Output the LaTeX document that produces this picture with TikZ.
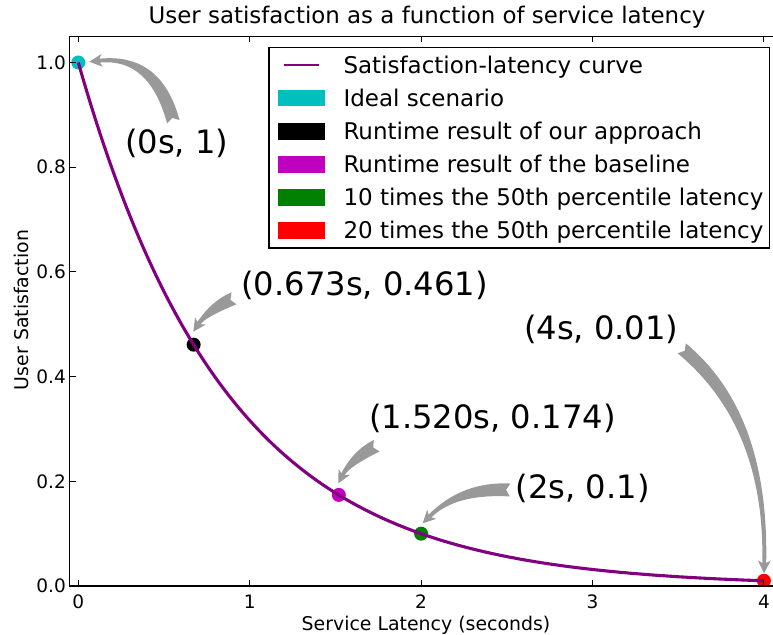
\documentclass[tikz,border=0pt]{standalone}
\usepackage{fontspec}
\setmainfont{DejaVu Sans}
\usetikzlibrary{calc}

\definecolor{curvepurple}{RGB}{128,0,128}
\definecolor{idealcyan}{RGB}{0,191,191}
\definecolor{basemagenta}{RGB}{191,0,191}
\definecolor{tengreen}{RGB}{0,128,0}
\definecolor{twentyred}{RGB}{255,0,0}
\definecolor{arrowgray}{RGB}{153,153,153}

% Tapered "fancy" arrow along a quadratic path: #1 tail, #2 control point, #3 tip
\newcommand\fancyarrow[3]{%
  \coordinate (fatl) at ($(#1)!6.45pt!90:(#2)$);
  \coordinate (fatr) at ($(#1)!6.45pt!-90:(#2)$);
  \coordinate (fanotch) at ($(#1)!3.9pt!(#2)$);
  \coordinate (faneck) at ($(#3)!10.3pt!(#2)$);
  \coordinate (fabase) at ($(#3)!12.9pt!(#2)$);
  \coordinate (fanl) at ($(faneck)!1.95pt!90:(#3)$);
  \coordinate (fanr) at ($(faneck)!1.95pt!-90:(#3)$);
  \coordinate (fahl) at ($(fabase)!6.45pt!90:(#3)$);
  \coordinate (fahr) at ($(fabase)!6.45pt!-90:(#3)$);
  \coordinate (fatlx) at ($(fatl)+(#2)-(#1)$);
  \coordinate (fatrx) at ($(fatr)+(#2)-(#1)$);
  \coordinate (fanlx) at ($(fanl)+(#3)-(#2)$);
  \coordinate (fanrx) at ($(fanr)+(#3)-(#2)$);
  \coordinate (facl) at (intersection of fatl--fatlx and fanl--fanlx);
  \coordinate (facr) at (intersection of fatr--fatrx and fanr--fanrx);
  \fill[arrowgray] (fanotch) -- (fatr)
    .. controls ($(fatr)!2/3!(facr)$) and ($(fanr)!2/3!(facr)$) .. (fanr)
    -- (fahr) -- (#3) -- (fahl) -- (fanl)
    .. controls ($(fanl)!2/3!(facl)$) and ($(fatl)!2/3!(facl)$) .. (fatl)
    -- cycle;
}

\tikzset{
  spine/.style={line width=1.2pt, black},
  tickmark/.style={line width=1pt, black},
  ticklabel/.style={inner sep=0pt, font=\fontsize{18.5pt}{22pt}\selectfont},
  axislabel/.style={inner sep=0pt, font=\fontsize{18.9pt}{22pt}\selectfont},
  titletext/.style={inner sep=0pt, font=\fontsize{22.9pt}{27pt}\selectfont},
  legendtext/.style={inner sep=0pt, anchor=base west, font=\fontsize{23pt}{27pt}\selectfont},
  annot/.style={inner sep=0pt, anchor=base west, font=\fontsize{32.2pt}{37pt}\selectfont},
  dot/.style={circle, inner sep=0pt, minimum size=14pt, draw=none},
  curve/.style={curvepurple, line width=3.1pt},
  patch/.style={minimum width=46.7pt, minimum height=16.7pt, inner sep=0pt, draw=none},
}

\begin{document}
\begin{tikzpicture}[x=1pt, y=-1pt]
  \useasboundingbox (0,0) rectangle (773,634);
  \fill[white] (0,0) rectangle (773,634);

  % title and axis labels
  \node[titletext, anchor=base] (title) at (427,23.3) {User satisfaction as a function of service latency};
  \node[axislabel, anchor=base] (xlabel) at (426,630.3) {Service Latency (seconds)};
  \node[axislabel, anchor=base, rotate=90] (ylabel) at (28.3,310) {User Satisfaction};

  % plot area in data coordinates
  \begin{scope}[shift={(78.3pt,-586pt)}, x=171.4pt, y=523.5pt]
    \begin{scope}
      \clip (-0.05,0) rectangle (4.12,1.05);
      \node[dot, fill=idealcyan]   (pideal)  at (0,1) {};
      \node[dot, fill=black]       (pours)   at (0.673,0.461) {};
      \node[dot, fill=basemagenta] (pbase)   at (1.52,0.174) {};
      \node[dot, fill=tengreen]    (pten)    at (2,0.1) {};
      \node[dot, fill=twentyred]   (ptwenty) at (4,0.01) {};
      \draw[curve] plot[domain=0:4, samples=160, smooth] (\x, {exp(-1.151293*\x)});
    \end{scope}
    % spines (the right one lies beyond the visible area)
    \draw[spine] (4.12,1.05) -- (-0.05,1.05) -- (-0.05,0) -- (4.12,0);
    % ticks and tick labels
    \foreach \t in {0,1,2,3,4} {
      \draw[tickmark] (\t,0) -- ++(0pt,6pt);
      \draw[tickmark] (\t,1.05) -- ++(0pt,-6pt);
      \node[ticklabel, anchor=north] (xt\t) at ($(\t,0)+(0pt,-9pt)$) {\t};
    }
    \foreach \s/\lab in {0/0.0, 0.2/0.2, 0.4/0.4, 0.6/0.6, 0.8/0.8, 1/1.0} {
      \draw[tickmark] (-0.05,\s) -- ++(6pt,0pt);
      \node[ticklabel, anchor=east] at ($(0,\s)+(-12.3pt,0pt)$) {\lab};
    }
  \end{scope}

  % legend
  \draw[line width=1.2pt, fill=white] (269,47.3) rectangle (769.5,248);
  \draw[curvepurple, line width=2.8pt] (284,65) -- (319.3,65);
  \node[legendtext] (lg1) at (343.3,73.4) {Satisfaction-latency curve};
  \node[patch, fill=idealcyan]   (pt2) at (301.7,98.1) {};
  \node[legendtext] (lg2) at (343.3,106.5) {Ideal scenario};
  \node[patch, fill=black]       (pt3) at (301.7,131.2) {};
  \node[legendtext] (lg3) at (343.3,139.6) {Runtime result of our approach};
  \node[patch, fill=basemagenta] (pt4) at (301.7,164.3) {};
  \node[legendtext] (lg4) at (343.3,172.7) {Runtime result of the baseline};
  \node[patch, fill=tengreen]    (pt5) at (301.7,197.4) {};
  \node[legendtext] (lg5) at (343.3,205.8) {10 times the 50th percentile latency};
  \node[patch, fill=twentyred]   (pt6) at (301.7,230.5) {};
  \node[legendtext] (lg6) at (343.3,238.9) {20 times the 50th percentile latency};

  % annotations
  \node[annot] (aideal)  at (124.8,153.3) {(0s, 1)};
  \node[annot] (aours)   at (241.1,295)   {(0.673s, 0.461)};
  \node[annot] (abase)   at (368.8,428.7) {(1.520s, 0.174)};
  \node[annot] (aten)    at (515.4,498.3) {(2s, 0.1)};
  \node[annot] (atwenty) at (523.8,339.3) {(4s, 0.01)};

  \coordinate (a1t) at (173.3,121.7); \coordinate (a1c) at (155.3,55);    \coordinate (a1h) at (89.3,61.7);
  \coordinate (a2t) at (234,298.3);   \coordinate (a2c) at (208.6,308.8); \coordinate (a2h) at (193.3,331.7);
  \coordinate (a3t) at (376.7,445.7); \coordinate (a3c) at (351.4,458.3); \coordinate (a3h) at (338.3,483.3);
  \coordinate (a4t) at (510,490);     \coordinate (a4c) at (458.9,487.2); \coordinate (a4h) at (422.7,523.3);
  \coordinate (a5t) at (681.7,348.3); \coordinate (a5c) at (767.2,419.2); \coordinate (a5h) at (764,573.3);

  \fancyarrow{a1t}{a1c}{a1h}
  \fancyarrow{a2t}{a2c}{a2h}
  \fancyarrow{a3t}{a3c}{a3h}
  \fancyarrow{a4t}{a4c}{a4h}
  \fancyarrow{a5t}{a5c}{a5h}
\end{tikzpicture}
\end{document}
